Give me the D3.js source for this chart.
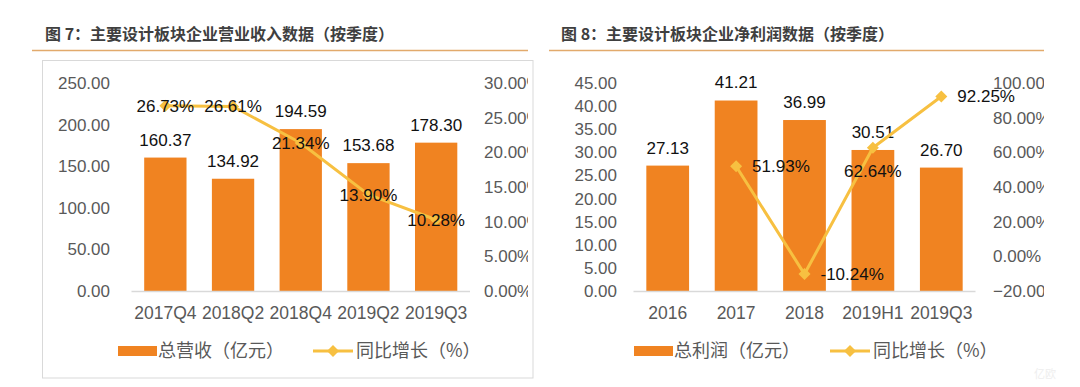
<!DOCTYPE html>
<html>
<head>
<meta charset="utf-8">
<script src="https://cdn.jsdelivr.net/npm/d3@7"></script>
<style>
body { margin: 0; background: #fff; }
svg text { font-family: "Liberation Sans", Arial, sans-serif; }
svg text.cjk { font-family: "Noto Sans CJK SC", "Liberation Sans", sans-serif; }
</style>
</head>
<body>
<svg id="chart" width="1080" height="387"></svg>
<script>
// 图7：营业收入（按季度）
const revCategories = ["2017Q4", "2018Q2", "2018Q4", "2019Q2", "2019Q3"];
const revValues = [160.37, 134.92, 194.59, 153.68, 178.30];
const revGrowth = [26.73, 26.61, 21.34, 13.90, 10.28];
const revTicks = [0, 50, 100, 150, 200, 250];
const revPctTicks = [0, 5, 10, 15, 20, 25, 30];

// 图8：净利润
const profitCategories = ["2016", "2017", "2018", "2019H1", "2019Q3"];
const profitValues = [27.13, 41.21, 36.99, 30.51, 26.70];
const profitGrowth = [null, 51.93, -10.24, 62.64, 92.25];
const profitTicks = [0, 5, 10, 15, 20, 25, 30, 35, 40, 45];
const profitPctTicks = [-20, 0, 20, 40, 60, 80, 100];

const barColor = "#F08321";
const lineColor = "#F7C041";
const axisColor = "#595959";

const svg = d3.select("#chart");

function diamond(sel, cx, cy, r) {
    sel.append("path")
        .attr("d", `M${cx},${cy - r}L${cx + r},${cy}L${cx},${cy + r}L${cx - r},${cy}Z`)
        .attr("fill", lineColor);
}

function drawPanel(cfg) {
    const g = svg.append("g");

    // recorte para las etiquetas del eje derecho
    const clipId = "clip" + cfg.id;
    g.append("clipPath").attr("id", clipId)
        .append("rect").attr("x", cfg.ruleX0).attr("y", 0)
        .attr("width", cfg.ruleX1 - cfg.ruleX0).attr("height", 387);

    // titulo
    g.append("text")
        .attr("class", "cjk")
        .attr("x", cfg.titleX).attr("y", 34).attr("dy", "0.35em")
        .attr("font-size", 16).attr("font-weight", "bold")
        .attr("fill", "#3F3F3F")
        .text(cfg.title);

    g.append("line")
        .attr("x1", cfg.ruleX0).attr("x2", cfg.ruleX1)
        .attr("y1", 50.5).attr("y2", 50.5)
        .attr("stroke", "#E2AA6C").attr("stroke-width", 1.5);

    if (cfg.box) {
        g.append("rect")
            .attr("x", 42.5).attr("y", 60.5)
            .attr("width", cfg.ruleX1 + 5 - 42.5).attr("height", 378 - 60.5)
            .attr("fill", "none").attr("stroke", "#D9D9D9");
    }

    // escalas
    const x = d3.scaleBand()
        .domain(cfg.categories)
        .range([cfg.x0, cfg.x1])
        .paddingInner(0.375)
        .paddingOuter(0.1875);

    const y = d3.scaleLinear()
        .domain([0, d3.max(cfg.ticks)])
        .range([291, 83]);

    const yPct = d3.scaleLinear()
        .domain(d3.extent(cfg.pctTicks))
        .range([291, 83]);

    // ejes
    const yAxis = d3.axisLeft(y)
        .tickValues(cfg.ticks)
        .tickFormat(d3.format(".2f"))
        .tickSize(0).tickPadding(0);

    const yAxisR = d3.axisRight(yPct)
        .tickValues(cfg.pctTicks)
        .tickFormat(d => d3.format(".2f")(d) + "%")
        .tickSize(0).tickPadding(0);

    const xAxis = d3.axisBottom(x).tickSize(0).tickPadding(0);

    const ga = g.append("g")
        .attr("transform", `translate(${cfg.leftLabelX},0)`)
        .call(yAxis);
    const gr = g.append("g")
        .attr("clip-path", `url(#${clipId})`)
        .append("g")
        .attr("transform", `translate(${cfg.rightLabelX},0)`)
        .call(yAxisR);
    const gx = g.append("g")
        .attr("transform", `translate(0,${cfg.catY})`)
        .call(xAxis);

    [ga, gr, gx].forEach(a => {
        a.select(".domain").remove();
        a.selectAll("text")
            .attr("font-size", 17)
            .attr("fill", axisColor)
            .attr("font-family", "Liberation Sans, Arial, sans-serif");
    });
    gx.selectAll("text").attr("dy", "0.35em").attr("y", 0).attr("font-size", 17.5);

    // barras
    g.selectAll(".bar")
        .data(cfg.values)
        .join("rect")
        .attr("class", "bar")
        .attr("x", (d, i) => x(cfg.categories[i]))
        .attr("y", d => y(d))
        .attr("width", x.bandwidth())
        .attr("height", d => y(0) - y(d))
        .attr("fill", barColor);

    g.append("line")
        .attr("x1", cfg.x0).attr("x2", cfg.x1)
        .attr("y1", y(0) + 0.5).attr("y2", y(0) + 0.5)
        .attr("stroke", "#D9D9D9").attr("stroke-width", 1.5);

    g.selectAll(".barLabel")
        .data(cfg.values)
        .join("text")
        .attr("class", "barLabel")
        .attr("x", (d, i) => x(cfg.categories[i]) + x.bandwidth() / 2)
        .attr("y", d => y(d) - 18)
        .attr("dy", "0.35em")
        .attr("text-anchor", "middle")
        .attr("font-size", 17)
        .attr("fill", "#111")
        .text(d => d.toFixed(2));

    // linea de crecimiento
    const pts = cfg.growth
        .map((v, i) => ({ v, i, cx: x(cfg.categories[i]) + x.bandwidth() / 2 }))
        .filter(p => p.v !== null);

    const line = d3.line()
        .x(p => p.cx)
        .y(p => yPct(p.v));

    g.append("path")
        .datum(pts)
        .attr("d", line)
        .attr("fill", "none")
        .attr("stroke", lineColor)
        .attr("stroke-width", 3)
        .attr("stroke-linejoin", "round");

    pts.forEach(p => diamond(g, p.cx, yPct(p.v), 6));

    pts.forEach(p => {
        const pos = cfg.growthPos[p.i];
        let lx = p.cx, ly = yPct(p.v), anchor = "middle";
        if (pos === "right") { lx = p.cx + 16; anchor = "start"; }
        if (pos === "below") { ly = ly + 23; }
        g.append("text")
            .attr("x", lx).attr("y", ly).attr("dy", "0.35em")
            .attr("text-anchor", anchor)
            .attr("font-size", 17)
            .attr("fill", "#111")
            .text(p.v.toFixed(2) + "%");
    });

    // leyenda
    const lg = g.append("g").attr("transform", "translate(0,351)");
    lg.append("rect")
        .attr("x", cfg.legendX).attr("y", -5)
        .attr("width", 39).attr("height", 10)
        .attr("fill", barColor);
    lg.append("text")
        .attr("class", "cjk")
        .attr("x", cfg.legendX + 40).attr("y", 0).attr("dy", "0.35em")
        .attr("font-size", 18).attr("fill", axisColor)
        .text(cfg.barName);
    lg.append("line")
        .attr("x1", cfg.legendLineX).attr("x2", cfg.legendLineX + 40)
        .attr("y1", 0).attr("y2", 0)
        .attr("stroke", lineColor).attr("stroke-width", 3);
    diamond(lg, cfg.legendLineX + 20, 0, 6);
    lg.append("text")
        .attr("class", "cjk")
        .attr("x", cfg.legendLineX + 43).attr("y", 0).attr("dy", "0.35em")
        .attr("font-size", 18).attr("fill", axisColor)
        .text("同比增长（%）");
}

drawPanel({
    id: "rev",
    title: "图 7：主要设计板块企业营业收入数据（按季度）",
    titleX: 45, ruleX0: 32, ruleX1: 528, box: true,
    categories: revCategories, values: revValues, growth: revGrowth,
    ticks: revTicks, pctTicks: revPctTicks,
    growthPos: ["center", "center", "center", "center", "center"],
    x0: 131.5, x1: 470, leftLabelX: 110, rightLabelX: 484, catY: 313,
    legendX: 118, legendLineX: 313, barName: "总营收（亿元）"
});

drawPanel({
    id: "profit",
    title: "图 8：主要设计板块企业净利润数据（按季度）",
    titleX: 561, ruleX0: 549, ruleX1: 1044, box: false,
    categories: profitCategories, values: profitValues, growth: profitGrowth,
    ticks: profitTicks, pctTicks: profitPctTicks,
    growthPos: [null, "right", "right", "below", "right"],
    x0: 633.5, x1: 975.5, leftLabelX: 617, rightLabelX: 993, catY: 313,
    legendX: 634, legendLineX: 830, barName: "总利润（亿元）"
});

// marca de agua
svg.append("text")
    .attr("class", "cjk")
    .attr("x", 1045).attr("y", 378)
    .attr("text-anchor", "middle")
    .attr("font-size", 11)
    .attr("fill", "#EEEEEE")
    .text("亿欧");
</script>
</body>
</html>
